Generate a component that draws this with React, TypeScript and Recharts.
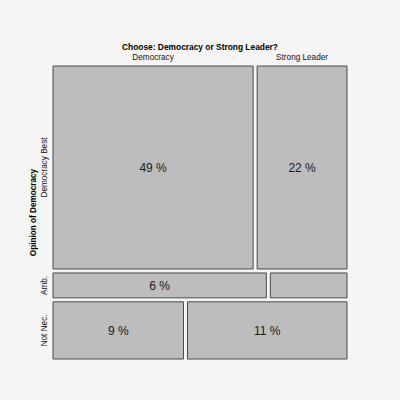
import React from "react";
import { ComposedChart, XAxis, YAxis, ReferenceArea, Label } from "recharts";

const title = "Choose: Democracy or Strong Leader?";
const rowAxisTitle = "Opinion of Democracy";
const rowCategories = ["Democracy Best", "Amb.", "Not Nec."];
const columnCategories = ["Democracy", "Strong Leader"];
const democracyValues = [49, 6.4, 9];
const strongLeaderValues = [22, 2.3, 11];
const democracyLabels = ["49 %", "6 %", "9 %"];
const strongLeaderLabels = ["22 %", "", "11 %"];

const GX = 0.0138;
const GY = 0.014;
const FONT = "'Liberation Sans', Arial, Helvetica, sans-serif";
const FILL = "#bdbdbd";
const STROKE = "#4a4a4a";

type Cell = {
  row: number;
  col: number;
  x1: number;
  x2: number;
  y1: number;
  y2: number;
  label: string;
};

const rowTotals = rowCategories.map((_, i) => democracyValues[i] + strongLeaderValues[i]);
const grandTotal = rowTotals.reduce((a, b) => a + b, 0);

const cells: Cell[] = [];
let cum = 0;
rowCategories.forEach((_, i) => {
  const h = rowTotals[i] / grandTotal;
  const y1 = cum + i * GY;
  const y2 = y1 + h;
  const split = democracyValues[i] / rowTotals[i];
  cells.push({ row: i, col: 0, x1: 0, x2: split, y1, y2, label: democracyLabels[i] });
  cells.push({ row: i, col: 1, x1: split + GX, x2: 1 + GX, y1, y2, label: strongLeaderLabels[i] });
  cum += h;
});

const X_MAX = 1 + GX;
const Y_MAX = 1 + GY * (rowCategories.length - 1);

const RowLabel = (props: any) => {
  const { viewBox, value } = props;
  const x = viewBox.x - 6;
  const y = viewBox.y + viewBox.height / 2;
  return (
    <text x={x} y={y} textAnchor="middle" fontSize={8.2} fontFamily={FONT} fill="#111" transform={`rotate(-90, ${x}, ${y})`}>
      {value}
    </text>
  );
};

const ColLabel = (props: any) => {
  const { viewBox, value } = props;
  const x = viewBox.x + viewBox.width / 2;
  const y = viewBox.y - 6;
  return (
    <text x={x} y={y} textAnchor="middle" fontSize={8.2} fontFamily={FONT} fill="#111">
      {value}
    </text>
  );
};

const TitleLabel = (props: any) => {
  const { viewBox } = props;
  const cx = viewBox.x + viewBox.width / 2;
  const cy = viewBox.y + viewBox.height / 2;
  const tx = viewBox.x - 17;
  return (
    <g>
      <text x={cx} y={viewBox.y - 16} textAnchor="middle" fontSize={8.4} fontWeight="bold" fontFamily={FONT} fill="#000">
        {title}
      </text>
      <text x={tx} y={cy} textAnchor="middle" fontSize={8.2} fontWeight="bold" fontFamily={FONT} fill="#000" transform={`rotate(-90, ${tx}, ${cy})`}>
        {rowAxisTitle}
      </text>
    </g>
  );
};

export default function App() {
  return (
    <div style={{ position: "fixed", inset: 0, background: "#f5f5f5" }}>
      <div style={{ position: "absolute", left: 8, top: 8 }}>
        <ComposedChart width={384} height={384} data={[{ x: 0, y: 0 }]} margin={{ top: 58, left: 45, right: 45, bottom: 33 }}>
          <XAxis type="number" dataKey="x" domain={[0, X_MAX]} allowDataOverflow hide />
          <YAxis type="number" dataKey="y" domain={[0, Y_MAX]} allowDataOverflow reversed hide />
          <ReferenceArea x1={0} x2={X_MAX} y1={0} y2={Y_MAX} fill="none" stroke="none" ifOverflow="visible">
            <Label content={<TitleLabel />} />
          </ReferenceArea>
          {cells.map((c) => (
            <ReferenceArea
              key={`${c.row}-${c.col}`}
              x1={c.x1}
              x2={c.x2}
              y1={c.y1}
              y2={c.y2}
              fill={FILL}
              fillOpacity={1}
              stroke={STROKE}
              strokeWidth={1}
              ifOverflow="visible"
            >
              {c.label ? (
                <Label value={c.label} position="center" fontSize={12} fontFamily={FONT} fill="#1a1a1a" />
              ) : null}
              {c.col === 0 ? <Label value={rowCategories[c.row]} content={<RowLabel />} /> : null}
              {c.row === 0 ? <Label value={columnCategories[c.col]} content={<ColLabel />} /> : null}
            </ReferenceArea>
          ))}
        </ComposedChart>
      </div>
    </div>
  );
}
